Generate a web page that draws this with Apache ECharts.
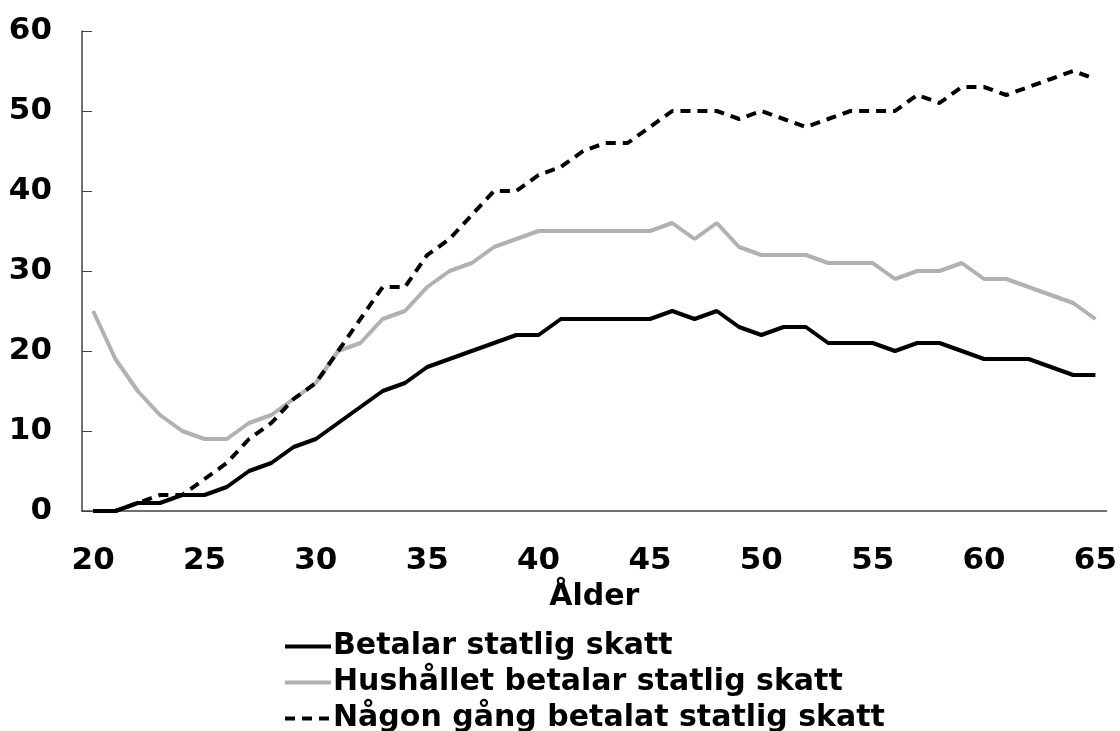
<!DOCTYPE html>
<html>
<head>
<meta charset="utf-8">
<script src="https://cdn.jsdelivr.net/npm/echarts@6/dist/echarts.min.js"></script>
<style>
  html, body { margin: 0; padding: 0; background: #fff; }
  #chart { width: 1120px; height: 731px; }
</style>
</head>
<body>
<div id="chart"></div>
<script>
// ålder 20..65
const ages = ['20','21','22','23','24','25','26','27','28','29','30','31','32','33','34','35','36','37','38','39','40','41','42','43','44','45','46','47','48','49','50','51','52','53','54','55','56','57','58','59','60','61','62','63','64','65'];

const betalar = [0,0,1,1,2,2,3,5,6,8, 9,11,13,15,16,18,19,20,21,22, 22,24,24,24,24,24,25,24,25,23, 22,23,23,21,21,21,20,21,21,20, 19,19,19,18,17,17];
const hushallet = [25,19,15,12,10,9,9,11,12,14, 16,20,21,24,25,28,30,31,33,34, 35,35,35,35,35,35,36,34,36,33, 32,32,32,31,31,31,29,30,30,31, 29,29,28,27,26,24];
const nagonGang = [0,0,1,2,2,4,6,9,11,14, 16,20,24,28,28,32,34,37,40,40, 42,43,45,46,46,48,50,50,50,49, 50,49,48,49,50,50,50,52,51,53, 53,52,53,54,55,54];

const seriesNames = ['Betalar statlig skatt', 'Hushållet betalar statlig skatt', 'Någon gång betalat statlig skatt'];

const font = 'DejaVu Sans, Verdana, sans-serif';
const axisColor = '#404040';

const chart = echarts.init(document.getElementById('chart'));
chart.setOption({
  animation: false,
  backgroundColor: '#fff',
  grid: { left: 82, right: 13, top: 31, bottom: 220 },
  legend: {
    orient: 'vertical',
    left: 283,
    top: 631,
    height: 200,
    itemWidth: 46,
    itemHeight: 14,
    itemGap: 5,
    padding: 0,
    data: seriesNames,
    itemStyle: { opacity: 0 },
    lineStyle: { width: 4 },
    textStyle: { fontFamily: font, fontWeight: 'bold', fontSize: 30, lineHeight: 31, color: '#000', padding: [0, 0, 0, -3] }
  },
  xAxis: {
    type: 'category',
    data: ages,
    name: 'Ålder',
    nameLocation: 'middle',
    nameGap: 71,
    nameMoveOverlap: false,
    nameTextStyle: { fontFamily: font, fontWeight: 'bold', fontSize: 30, color: '#000' },
    axisLine: { lineStyle: { color: axisColor, width: 1.5 } },
    axisTick: { inside: true, interval: 0, length: 10, lineStyle: { color: axisColor } },
    axisLabel: { interval: 4, margin: 34, fontFamily: font, fontWeight: 'bold', fontSize: 31, color: '#000' },
    splitLine: { show: false }
  },
  yAxis: {
    type: 'value',
    min: 0,
    max: 60,
    interval: 10,
    axisLine: { show: true, lineStyle: { color: axisColor, width: 1.5 } },
    axisTick: { show: true, inside: true, length: 10, lineStyle: { color: axisColor } },
    axisLabel: { margin: 30, fontFamily: font, fontWeight: 'bold', fontSize: 31, color: '#000' },
    splitLine: { show: false }
  },
  series: [
    {
      name: seriesNames[0],
      type: 'line',
      data: betalar,
      symbol: 'none',
      lineStyle: { color: '#000', width: 4 },
      itemStyle: { color: '#000' }
    },
    {
      name: seriesNames[1],
      type: 'line',
      data: hushallet,
      symbol: 'none',
      lineStyle: { color: '#b3b0b0', width: 4 },
      itemStyle: { color: '#b3b0b0' }
    },
    {
      name: seriesNames[2],
      type: 'line',
      data: nagonGang,
      symbol: 'none',
      lineStyle: { color: '#000', width: 4, type: [10, 7] },
      itemStyle: { color: '#000' }
    }
  ]
});
</script>
</body>
</html>
